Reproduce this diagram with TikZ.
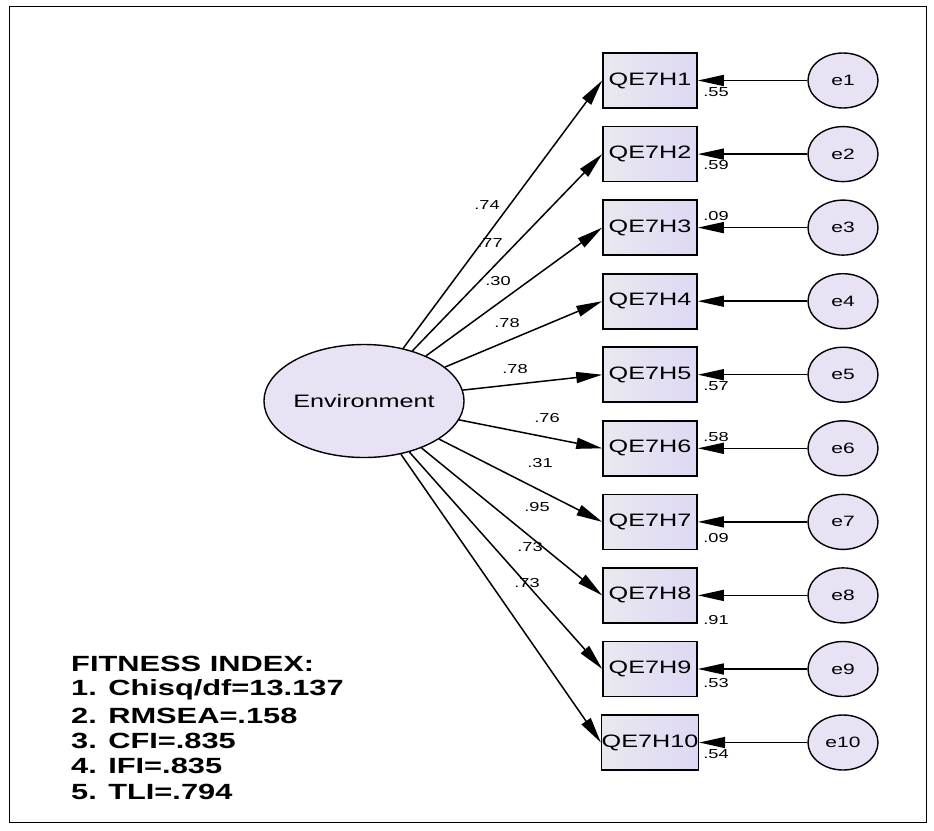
\documentclass[tikz,border=0pt]{standalone}
\usepackage{graphicx}
\usepackage{fontspec}
\setmainfont{Liberation Sans}
\usetikzlibrary{arrows.meta,shapes.geometric}
\definecolor{boxL}{RGB}{234,232,240}
\definecolor{boxR}{RGB}{222,216,244}
\definecolor{ellfill}{RGB}{232,226,244}
\newcommand{\wx}[1]{\scalebox{1.4}[1]{#1}}
\begin{document}
\begin{tikzpicture}[x=1pt,y=-1pt,
  obs/.style={draw, line width=1.6pt, minimum width=94pt, minimum height=55pt, inner sep=0pt,
    left color=boxL, right color=boxR, font=\fontsize{18}{20}\selectfont},
  err/.style={ellipse, draw, line width=1.4pt, minimum width=70pt, minimum height=55pt,
    inner sep=0pt, fill=ellfill, font=\fontsize{15}{18}\selectfont},
  lat/.style={ellipse, draw, line width=1.4pt, minimum width=192pt, minimum height=113pt,
    inner sep=0pt, fill=ellfill, font=\fontsize{18}{20}\selectfont},
  arr/.style={line width=1.5pt, -{Triangle[length=26pt,width=11pt]}},
  lab/.style={font=\fontsize{13}{14}\selectfont, inner sep=0pt},
  fit/.style={font=\bfseries\fontsize{22}{25}\selectfont, anchor=west, inner sep=0pt},
  frame/.style={draw, line width=1pt}]
\useasboundingbox (0,0) rectangle (934,830);
\draw[frame] (9,6) rectangle (926,822);

\node[lat] (env) at (364,401) {\wx{Environment}};

\foreach \i/\y in {1/80.5,2/154.1,3/227.6,4/301.2,5/374.7,6/448.3,7/521.9,8/595.4,9/669.0,10/742.5}{
  \node[obs] (q\i) at (650,\y) {\wx{QE7H\i}};
  \node[err] (e\i) at (843,\y) {\wx{e\i}};
  \draw[arr] (e\i.west) -- (q\i.east);
  \draw[arr] (env) -- (q\i.west);
}

% loadings
\node[lab] (l1) at (487,205) {\wx{.74}};
\node[lab] (l2) at (490,243) {\wx{.77}};
\node[lab] (l3) at (498,281) {\wx{.30}};
\node[lab] (l4) at (507,323) {\wx{.78}};
\node[lab] (l5) at (515,369) {\wx{.78}};
\node[lab] (l6) at (547,418) {\wx{.76}};
\node[lab] (l7) at (540,463) {\wx{.31}};
\node[lab] (l8) at (537,507) {\wx{.95}};
\node[lab] (l9) at (530,547) {\wx{.73}};
\node[lab] (l10) at (527,583) {\wx{.73}};

% squared multiple correlations
\node[lab] (r1) at (716,92) {\wx{.55}};
\node[lab] (r2) at (716,165) {\wx{.59}};
\node[lab] (r3) at (716,216) {\wx{.09}};
\node[lab] (r5) at (716,386) {\wx{.57}};
\node[lab] (r6) at (716,437) {\wx{.58}};
\node[lab] (r7) at (716,538) {\wx{.09}};
\node[lab] (r8) at (716,620) {\wx{.91}};
\node[lab] (r9) at (716,683) {\wx{.53}};
\node[lab] (r10) at (716,754) {\wx{.54}};

% fitness index
\node[fit] (f0) at (71,664) {\wx{FITNESS INDEX:}};
\node[fit] (f1) at (71,690) {\wx{1. Chisq/df=13.137}};
\node[fit] (f2) at (71,716) {\wx{2. RMSEA=.158}};
\node[fit] (f3) at (71,741) {\wx{3. CFI=.835}};
\node[fit] (f4) at (71,766) {\wx{4. IFI=.835}};
\node[fit] (f5) at (71,792) {\wx{5. TLI=.794}};
\end{tikzpicture}
\end{document}
